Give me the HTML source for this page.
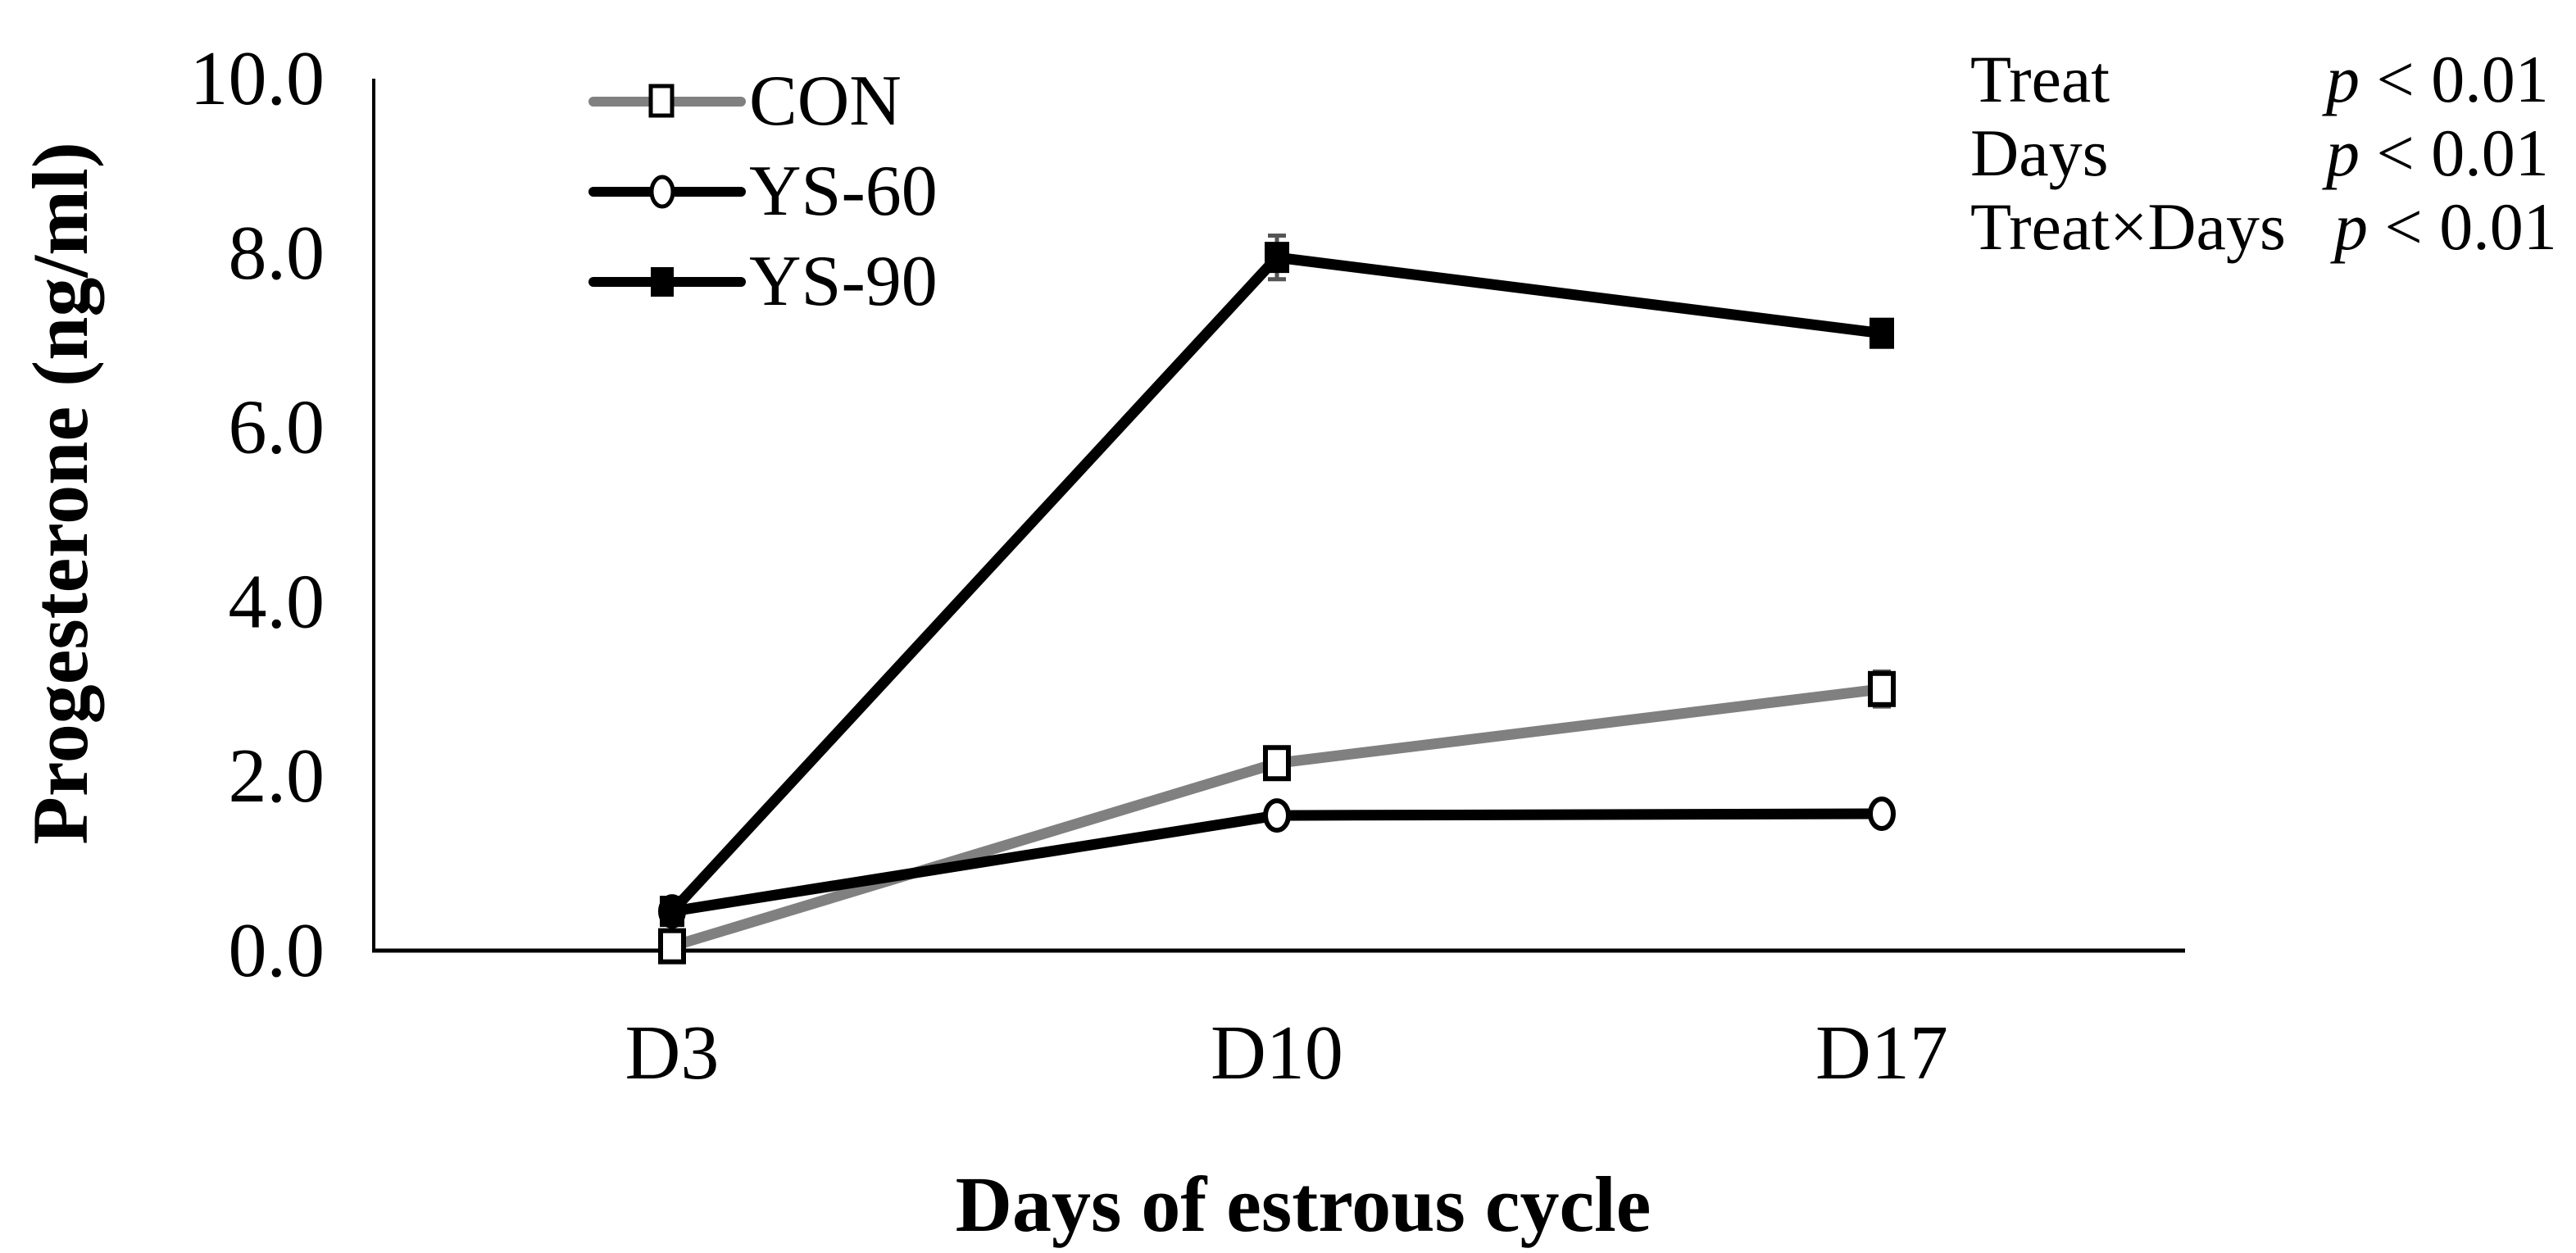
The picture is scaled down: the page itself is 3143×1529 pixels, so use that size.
<!DOCTYPE html>
<html><head><meta charset="utf-8"><style>
html,body{margin:0;padding:0;background:#fff}
svg{display:block}
text{font-family:"Liberation Serif","Times New Roman",serif;fill:#000}
</style></head><body>
<svg id="chart" width="3143" height="1529" viewBox="0 0 3143 1529" xmlns="http://www.w3.org/2000/svg">
<g id="axes"></g>
<g id="series"></g>
<g>
  <g>
    <line x1="724" y1="124" x2="904" y2="124" stroke="#808080" stroke-width="12" stroke-linecap="round"/>
    <rect x="794" y="105" width="26" height="36" fill="#fff" stroke="#000" stroke-width="5"/>
    <text x="914" y="152" font-size="88">CON</text>
  </g>
  <g>
    <line x1="724" y1="234" x2="904" y2="234" stroke="#000" stroke-width="12" stroke-linecap="round"/>
    <ellipse cx="808" cy="234" rx="13" ry="18" fill="#fff" stroke="#000" stroke-width="5"/>
    <text x="914" y="262" font-size="88">YS-60</text>
  </g>
  <g>
    <line x1="724" y1="344" x2="904" y2="344" stroke="#000" stroke-width="12" stroke-linecap="round"/>
    <rect x="794" y="326" width="28" height="36" fill="#000"/>
    <text x="914" y="372" font-size="88">YS-90</text>
  </g>
</g>
<g font-size="82">
  <text x="2404" y="124">Treat</text><text x="2838" y="124"><tspan font-style="italic">p</tspan> &lt; 0.01</text>
  <text x="2404" y="214">Days</text><text x="2838" y="214"><tspan font-style="italic">p</tspan> &lt; 0.01</text>
  <text x="2404" y="304">Treat×Days</text><text x="2848" y="304"><tspan font-style="italic">p</tspan> &lt; 0.01</text>
</g>
<text x="0" y="0" font-size="96" font-weight="bold" text-anchor="middle" transform="translate(106,602) rotate(-90)">Progesterone (ng/ml)</text>
<text x="1590" y="1502" font-size="96" font-weight="bold" text-anchor="middle">Days of estrous cycle</text>
</svg>
<script>
const categories = ["D3","D10","D17"];
const conValues = [0.05, 2.15, 3.0];
const conErr = [0.05, 0.1, 0.2];
const ys60Values = [0.45, 1.55, 1.57];
const ys60Err = [0.05, 0.05, 0.05];
const ys90Values = [0.45, 7.95, 7.08];
const ys90Err = [0.05, 0.25, 0.15];
const yTicks = ["0.0","2.0","4.0","6.0","8.0","10.0"];

const NS="http://www.w3.org/2000/svg";
const X0=456, X1=2666, Y0=1160, YT=96, YMAX=10;
const xStart=820, xStep=738;
function xs(i){return xStart+i*xStep;}
function ys(v){return Y0-(v/YMAX)*(Y0-YT);}
function mk(tag,attrs,parent){const e=document.createElementNS(NS,tag);for(const k in attrs)e.setAttribute(k,attrs[k]);parent.appendChild(e);return e;}
const axes=document.getElementById('axes');
const yAx=mk('line',{x1:X0,y1:YT,x2:X0,y2:Y0,stroke:'#000','stroke-width':4},axes);


const xAx=mk('line',{x1:X0-2,y1:Y0,x2:X1,y2:Y0,stroke:'#000','stroke-width':5},axes);


yTicks.forEach(t=>{
  const e=mk('text',{x:X0-60,y:ys(parseFloat(t))+31,'font-size':94,'text-anchor':'end'},axes);
  e.textContent=t;
  
  
});
categories.forEach((c,i)=>{
  const e=mk('text',{x:xs(i),y:1316,'font-size':94,'text-anchor':'middle'},axes);
  e.textContent=c;
  
  
});
const ser=document.getElementById('series');
function drawSeries(name,vals,errs,color,marker){
  const g=mk('g',{},ser);
  
  
  const pts=vals.map((v,i)=>xs(i)+','+ys(v)).join(' ');
  const pl=mk('polyline',{points:pts,fill:'none',stroke:color,'stroke-width':13,'stroke-linejoin':'round'},g);
  
  
  vals.forEach((v,i)=>{
    const x=xs(i),y=ys(v),e=errs[i];
    const eb=mk('path',{d:`M${x},${ys(v+e)}V${ys(v-e)}M${x-11},${ys(v+e)}H${x+11}M${x-11},${ys(v-e)}H${x+11}`,stroke:'#555','stroke-width':5,fill:'none'},g);
    
    
    let m;
    if(marker==='square') m=mk('rect',{x:x-14,y:y-19,width:28,height:38,fill:'#fff',stroke:'#000','stroke-width':6},g);
    else if(marker==='circle') m=mk('ellipse',{cx:x,cy:y,rx:14,ry:18,fill:'#fff',stroke:'#000','stroke-width':6},g);
    else m=mk('rect',{x:x-15,y:y-19,width:30,height:38,fill:'#000'},g);
    
    
  });
}
drawSeries('con',conValues,conErr,'#808080','square');
drawSeries('ys60',ys60Values,ys60Err,'#000','circle');
drawSeries('ys90',ys90Values,ys90Err,'#000','filled');
</script>
</body></html>
